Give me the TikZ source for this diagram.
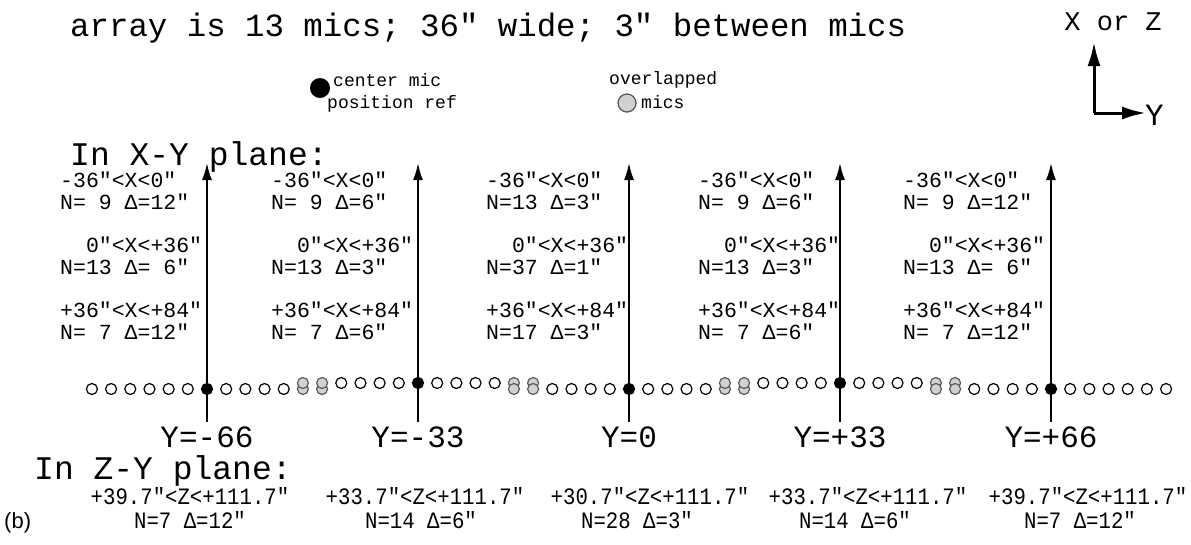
\documentclass[tikz,border=0pt]{standalone}
\usepackage{fontspec}
\setmainfont{Liberation Serif}
\setmonofont{Liberation Mono}
\newfontfamily\arialf{Liberation Sans}
\newfontfamily\condmono[FakeStretch=0.88]{Liberation Mono}
\usetikzlibrary{arrows.meta}
\begin{document}
\begin{tikzpicture}[x=1pt,y=-1pt,
  mic/.style={circle,draw=black,line width=1.2pt,minimum size=11pt,inner sep=0pt,fill=white},
  cmic/.style={mic,fill=black},
  omic/.style={mic,fill=black!18,draw=black!65},
  micarrow/.style={line width=1.8pt,-{Latex[length=17pt,width=10pt]}},
  axisarrow/.style={line width=3pt,-{Latex[length=24pt,width=13pt]}},
  lbl/.style={anchor=base west,inner sep=0pt,font=\ttfamily\fontsize{21.5}{23}\selectfont},
  big/.style={anchor=base west,inner sep=0pt,font=\ttfamily\fontsize{33}{35}\selectfont},
  ylbl/.style={anchor=base,inner sep=0pt,font=\ttfamily\fontsize{31}{34}\selectfont},
  zlbl/.style={anchor=base,inner sep=0pt,font=\condmono\fontsize{23.5}{25}\selectfont},
  leg/.style={anchor=base west,inner sep=0pt,font=\ttfamily\fontsize{18}{20}\selectfont}
]
\useasboundingbox (0,0) rectangle (1191,544);

% title
\node[anchor=base west,inner sep=0pt,font=\ttfamily\fontsize{32.4}{34}\selectfont] (title) at (70,36) {array is 13 mics; 36" wide; 3" between mics};

% legend
\node[circle,fill=black,minimum size=20pt,inner sep=0pt] (cdot) at (320,88) {};
\node[leg] (leg1) at (333,86) {center mic};
\node[leg] (leg2) at (327,108) {position ref};
\node[circle,fill=black!18,draw=black!65,line width=1.3pt,minimum size=18pt,inner sep=0pt] (odot) at (627,103) {};
\node[leg] (leg3) at (609,84) {overlapped};
\node[leg] (leg4) at (641,108) {mics};

% axes
\coordinate (o) at (1094,113);
\coordinate (ax) at (1094,42);
\coordinate (ay) at (1146,113);
\draw[axisarrow] (o) -- (ax);
\draw[axisarrow] (o) -- (ay);
\node[anchor=base,inner sep=0pt,font=\ttfamily\fontsize{27}{29}\selectfont] (xz) at (1113,30) {X or Z};
\node[anchor=west,inner sep=0pt,font=\ttfamily\fontsize{31}{33}\selectfont] (yax) at (1145,115) {Y};

% planes
\node[big] (xyp) at (70,165) {In X-Y plane:};
\node[big] (zyp) at (34,479) {In Z-Y plane:};

% arrows and Y labels
\foreach \a/\t in {1/-66,2/-33,3/0,4/+33,5/+66}{
  \pgfmathsetmacro\cx{207+211*(\a-1)}
  \coordinate (b\a) at (\cx,422);
  \coordinate (t\a) at (\cx,163);
  \draw[micarrow] (b\a) -- (t\a);
  \node[ylbl] (yl\a) at (\cx,447) {Y=\t};
}

% mics
\foreach \a in {1,...,5}{
  \pgfmathsetmacro\cx{207+211*(\a-1)}
  \pgfmathsetmacro\cy{ifthenelse(isodd(\a),389,383)}
  \foreach \k in {-6,...,6}{
    \def\st{mic}
    \ifnum\k=0 \def\st{cmic}\fi
    \ifnum\k>4 \ifnum\a<5 \def\st{omic}\fi\fi
    \ifnum\k<-4 \ifnum\a>1 \def\st{omic}\fi\fi
    \node[\st] (m\a\k) at ({\cx+\k*19.18},\cy) {};
  }
}

% X-Y labels
\foreach \c/\x/\ta/\tb/\tc/\td/\te/\tf in {
 1/60/{-36"<X<0"}/{N=~9~Δ=12"}/{~~0"<X<+36"}/{N=13~Δ=~6"}/{+36"<X<+84"}/{N=~7~Δ=12"},
 2/271/{-36"<X<0"}/{N=~9~Δ=6"}/{~~0"<X<+36"}/{N=13~Δ=3"}/{+36"<X<+84"}/{N=~7~Δ=6"},
 3/486/{-36"<X<0"}/{N=13~Δ=3"}/{~~0"<X<+36"}/{N=37~Δ=1"}/{+36"<X<+84"}/{N=17~Δ=3"},
 4/698/{-36"<X<0"}/{N=~9~Δ=6"}/{~~0"<X<+36"}/{N=13~Δ=3"}/{+36"<X<+84"}/{N=~7~Δ=6"},
 5/903/{-36"<X<0"}/{N=~9~Δ=12"}/{~~0"<X<+36"}/{N=13~Δ=~6"}/{+36"<X<+84"}/{N=~7~Δ=12"}}{
  \node[lbl] (la\c) at (\x,187) {\ta};
  \node[lbl] (lb\c) at (\x,209) {\tb};
  \node[lbl] (lc\c) at (\x,252) {\tc};
  \node[lbl] (ld\c) at (\x,274) {\td};
  \node[lbl] (le\c) at (\x,317) {\te};
  \node[lbl] (lf\c) at (\x,339) {\tf};
}

% Z-Y labels
\foreach \c/\xa/\xb/\ta/\tb in {
 1/190/190/{+39.7"<Z<+111.7"}/{N=7~Δ=12"},
 2/425/421/{+33.7"<Z<+111.7"}/{N=14~Δ=6"},
 3/650/637/{+30.7"<Z<+111.7"}/{N=28~Δ=3"},
 4/868/855/{+33.7"<Z<+111.7"}/{N=14~Δ=6"},
 5/1088/1080/{+39.7"<Z<+111.7"}/{N=7~Δ=12"}}{
  \node[zlbl] (za\c) at (\xa,504) {\ta};
  \node[zlbl] (zb\c) at (\xb,528) {\tb};
}

\node[anchor=base west,inner sep=0pt,font=\arialf\fontsize{22}{24}\selectfont] (blabel) at (4,528) {(b)};
\end{tikzpicture}
\end{document}
